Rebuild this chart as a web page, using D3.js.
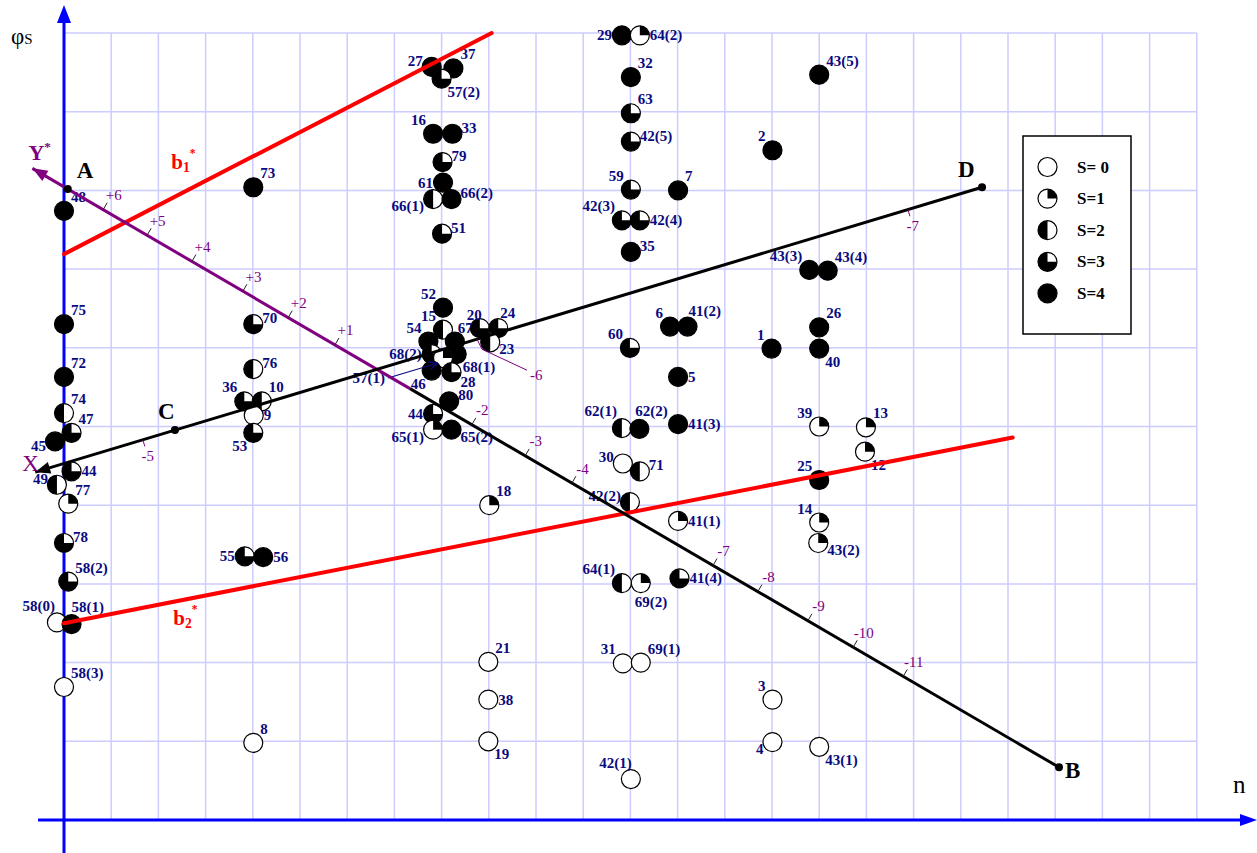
<!DOCTYPE html>
<html>
<head>
<meta charset="utf-8">
<script src="https://cdn.jsdelivr.net/npm/d3@7"></script>
<style>
  html, body { margin: 0; padding: 0; background: #fff; }
  svg { display: block; }
</style>
</head>
<body>
<svg id="chart" width="1257" height="853"></svg>
<script>
// ---------- data ----------
// plotted objects: label, position along n, value of φS, state S (0..4)
const pointIds = [
  "48","75","72","74","47","45","44","49","77","78","58(2)","58(0)","58(1)","58(3)",
  "73","70","76","36","10","9","53","55","56","8",
  "27","37","57(2)","16","33","79","61","66(1)","66(2)","51","52","15","54","67","68(2)","68(1)","57(1)","46","28","80","44","65(1)","65(2)",
  "20","24","23","18","21","38","19",
  "29","64(2)","32","63","42(5)","59","7","42(3)","42(4)","35","60","6","41(2)","5","62(1)","62(2)","41(3)","30","71","42(2)","41(1)","64(1)","69(2)","41(4)","31","69(1)","42(1)",
  "2","43(5)","43(3)","43(4)","1","26","40","39","13","12","25","14","43(2)","3","4","43(1)"
];
const pointN = [
  0, 0, 0, 0, 0.16, -0.19, 0.16, -0.15, 0.09, 0, 0.09, -0.15, 0.16, 0,
  4.01, 4.01, 4.01, 3.82, 4.19, 4.02, 4.01, 3.83, 4.22, 4.01,
  7.79, 8.25, 8.0, 7.82, 8.23, 8.02, 8.03, 7.82, 8.21, 8.01, 8.03, 8.03, 7.72, 8.28, 7.79, 8.32, 8.03, 7.79, 8.21, 8.16, 7.82, 7.82, 8.21,
  8.81, 9.20, 9.03, 9.01, 8.99, 8.99, 8.99,
  11.82, 12.20, 12.01, 12.01, 12.01, 12.01, 13.01, 11.82, 12.20, 12.01, 11.99, 12.84, 13.21, 13.01, 11.82, 12.19, 13.01, 11.84, 12.20, 11.99, 13.01, 11.82, 12.22, 13.04, 11.84, 12.22, 12.01,
  15.01, 16.00, 15.79, 16.18, 14.99, 16.00, 16.00, 16.00, 16.99, 16.97, 16.00, 16.00, 15.98, 15.01, 15.01, 16.00
];
const pointPhi = [
  7.74, 6.30, 5.63, 5.17, 4.92, 4.81, 4.43, 4.26, 4.02, 3.52, 3.03, 2.51, 2.49, 1.69,
  8.04, 6.30, 5.73, 5.32, 5.32, 5.14, 4.92, 3.35, 3.34, 0.98,
  9.57, 9.55, 9.42, 8.72, 8.72, 8.36, 8.10, 7.89, 7.89, 7.45, 6.51, 6.23, 6.08, 6.08, 5.92, 5.92, 5.87, 5.71, 5.69, 5.32, 5.16, 4.96, 4.96,
  6.25, 6.25, 6.07, 4.00, 2.01, 1.53, 1.00,
  9.97, 9.97, 9.44, 8.98, 8.62, 8.01, 8.00, 7.62, 7.62, 7.22, 6.00, 6.27, 6.27, 5.63, 4.98, 4.97, 5.03, 4.53, 4.43, 4.04, 3.80, 3.01, 3.01, 3.07, 1.99, 2.00, 0.52,
  8.51, 9.47, 6.99, 6.98, 5.99, 6.26, 5.99, 5.00, 4.99, 4.68, 4.32, 3.78, 3.52, 1.53, 0.99, 0.93
];
const pointS = [
  4, 4, 4, 2, 3, 4, 3, 2, 1, 3, 3, 0, 4, 0,
  4, 3, 2, 3, 2, 0, 3, 3, 4, 0,
  4, 4, 3, 4, 4, 3, 4, 2, 4, 3, 4, 2, 4, 4, 3, 4, 1, 4, 3, 4, 3, 1, 4,
  3, 3, 2, 1, 0, 0, 0,
  4, 1, 4, 3, 3, 3, 4, 3, 3, 4, 3, 4, 4, 4, 2, 4, 4, 0, 2, 2, 1, 2, 1, 3, 0, 0, 0,
  4, 4, 4, 4, 4, 4, 4, 1, 1, 1, 4, 1, 1, 0, 0, 0
];

// legend states
const sLevels = [0, 1, 2, 3, 4];
const sNames = ["S= 0", "S=1", "S=2", "S=3", "S=4"];

// straight lines, given by their end points [n, φS]
const lineAB = [[-0.67, 8.28], [21.08, 0.67]];   // Y* axis, from arrow tip to B
const lineCD = [[-0.61, 4.42], [19.45, 8.04]];   // X axis, from arrow tip to D
const lineB1 = [[0, 7.19], [9.06, 10.0]];        // b1*
const lineB2 = [[0, 2.50], [20.1, 4.86]];        // b2*
const abPurpleEnd = 7.33;                        // purple part of the Y* axis ends here

// scale marks along the two oblique axes
const abTickLabels = ["+6","+5","+4","+3","+2","+1","-2","-3","-4","-7","-8","-9","-10","-11"];
const abTickN = [0.83, 1.76, 2.71, 3.79, 4.75, 5.74, 8.64, 9.77, 10.76, 13.75, 14.70, 15.76, 16.72, 17.78];
const cdTickLabels = ["-5", "-6", "-7"];
const cdTickN = [1.67, 8.75, 17.88];

// named points on the oblique axes
const pointA_N = 0.08;
const pointC_N = 2.35;

// ---------- layout ----------
const labelCodes = {
  ne: [7, -9, "start"], nw: [-7, -9, "end"],
  e: [10, 5, "start"],  w: [-10, 5, "end"],
  en: [9, -1, "start"], wn: [-9, -1, "end"],
  es: [9, 12, "start"], ws: [-9, 12, "end"],
  se: [6, 18, "start"], sw: [-6, 18, "end"]
};
const labelAt = [
  "ne","ne","ne","ne","ne",[-9,10,"end"],"e","wn","ne","en","ne",[-2,-11,"end"],[0,-12,"start"],"ne",
  "ne","en","en","nw","ne","e","sw","w","e","ne",
  "wn","ne","se","nw","en","en","w","ws","en","en","nw","nw","nw",[3,-9,"start"],"w","se",[-58,25,"end"],"sw",[9,15,"start"],"en","w","ws","es",
  [2,-8,"end"],[2,-10,"start"],"es","ne","ne","e","se",
  "w","e","ne","ne","en","nw","ne","nw","e","en","nw","nw",[1,-11,"start"],"e",[-5,-12,"end"],[-4,-13,"start"],"e","wn","en","wn","e","nw",[-6,24,"start"],"e","nw","ne",[1,-11,"end"],
  "nw","ne","nw","ne","nw","ne","se","nw","ne","se","nw","nw","es","nw","ws","se"
];

const x = d3.scaleLinear().domain([0, 24]).range([64, 1196.8]);
const y = d3.scaleLinear().domain([0, 10]).range([820, 33]);
const svg = d3.select("#chart");
const serif = '"Liberation Serif","Times New Roman",Times,serif';
const R = 9.5;

const onLine = (ln, n) => {
  const [a, b] = ln;
  const t = (n - a[0]) / (b[0] - a[0]);
  return [n, a[1] + t * (b[1] - a[1])];
};
const px = p => [x(p[0]), y(p[1])];
const unitDir = ln => {
  const a = px(ln[0]), b = px(ln[1]);
  const dx = b[0] - a[0], dy = b[1] - a[1], L = Math.hypot(dx, dy);
  return [dx / L, dy / L];
};

// ---------- grid ----------
const grid = svg.append("g").attr("stroke", "#ccccff").attr("stroke-width", 1.5);
grid.selectAll("line.v").data(x.ticks(24).filter(d => d > 0)).join("line")
  .attr("class", "v")
  .attr("x1", d => x(d)).attr("x2", d => x(d))
  .attr("y1", y(10)).attr("y2", y(0));
grid.selectAll("line.h").data(y.ticks(10).filter(d => d > 0)).join("line")
  .attr("class", "h")
  .attr("x1", x(0)).attr("x2", x(24))
  .attr("y1", d => y(d)).attr("y2", d => y(d));

// ---------- axes ----------
const axisCol = "#0000ff";
svg.append("line").attr("x1", x(0)).attr("x2", x(0)).attr("y1", 853).attr("y2", 20)
  .attr("stroke", axisCol).attr("stroke-width", 3);
svg.append("path").attr("d", `M${x(0)},5 L${x(0) - 7},23 L${x(0) + 7},23 Z`).attr("fill", axisCol);
svg.append("line").attr("x1", 38).attr("x2", 1242).attr("y1", y(0)).attr("y2", y(0))
  .attr("stroke", axisCol).attr("stroke-width", 3);
svg.append("path").attr("d", `M1257,${y(0)} L1240,${y(0) - 6} L1240,${y(0) + 6} Z`).attr("fill", axisCol);

const phiLabel = svg.append("text").attr("x", 11).attr("y", 44)
  .attr("font-family", serif).attr("font-size", 23).attr("fill", "#000");
phiLabel.append("tspan").text("φ");
phiLabel.append("tspan").attr("font-size", 15).text("S");
svg.append("text").attr("x", 1233).attr("y", 793).attr("font-family", serif)
  .attr("font-size", 25).attr("fill", "#000").text("n");

// ---------- points ----------
const points = pointIds.map((id, i) => ({ id, n: pointN[i], phi: pointPhi[i], s: pointS[i], at: labelAt[i] }));
const arcGen = d3.arc().innerRadius(0);
const filledArc = { 1: [0, Math.PI / 2], 2: [Math.PI, 2 * Math.PI], 3: [Math.PI / 2, 2 * Math.PI] };

function drawSymbol(g, s, r) {
  g.append("circle").attr("r", r)
    .attr("fill", s === 4 ? "#000" : "#fff")
    .attr("stroke", "#000").attr("stroke-width", 1.2);
  if (filledArc[s]) {
    g.append("path")
      .attr("d", arcGen({ outerRadius: r, startAngle: filledArc[s][0], endAngle: filledArc[s][1] }))
      .attr("fill", "#000");
  }
}

const markG = svg.append("g");
points.forEach(p => {
  const g = markG.append("g").attr("transform", `translate(${x(p.n)},${y(p.phi)})`);
  drawSymbol(g, p.s, R);
});

const labelG = svg.append("g").attr("font-family", serif).attr("font-size", 15)
  .attr("font-weight", "bold").attr("fill", "#0a0a80");
points.forEach(p => {
  const c = Array.isArray(p.at) ? p.at : labelCodes[p.at];
  labelG.append("text")
    .attr("x", x(p.n) + c[0]).attr("y", y(p.phi) + c[1])
    .attr("text-anchor", c[2]).text(p.id);
});

// leader arrow from the 57(1) label to its marker
{
  const p = points.find(d => d.id === "57(1)");
  const tx = x(p.n) - 55, ty = y(p.phi) + 20;
  const hx = x(p.n) - 5, hy = y(p.phi) + 5;
  svg.append("line").attr("x1", tx).attr("y1", ty).attr("x2", hx).attr("y2", hy)
    .attr("stroke", "#0a0a80").attr("stroke-width", 1.2);
  const a = Math.atan2(hy - ty, hx - tx);
  const w = [hx - 9 * Math.cos(a) + 4 * Math.sin(a), hy - 9 * Math.sin(a) - 4 * Math.cos(a)];
  const v = [hx - 9 * Math.cos(a) - 4 * Math.sin(a), hy - 9 * Math.sin(a) + 4 * Math.cos(a)];
  svg.append("path").attr("d", `M${hx},${hy} L${w[0]},${w[1]} M${hx},${hy} L${v[0]},${v[1]}`)
    .attr("stroke", "#0a0a80").attr("stroke-width", 1.2).attr("fill", "none");
}

// ---------- regression lines b1*, b2* ----------
const lineGen = d3.line().x(d => x(d[0])).y(d => y(d[1]));
[lineB1, lineB2].forEach(ln => {
  svg.append("path").attr("d", lineGen(ln)).attr("stroke", "#ff0000")
    .attr("stroke-width", 4).attr("fill", "none").attr("stroke-linecap", "round");
});

function subLabel(xp, yp, base, sub, color, size) {
  const t = svg.append("text").attr("x", xp).attr("y", yp).attr("font-family", serif)
    .attr("font-weight", "bold").attr("font-size", size).attr("fill", color);
  t.append("tspan").text(base);
  t.append("tspan").attr("font-size", size * 0.65).attr("dy", 3).text(sub);
  t.append("tspan").attr("font-size", size * 0.55).attr("dy", -15).text("*");
}
{
  const p1 = px(onLine(lineB1, 2.4));
  subLabel(p1[0] - 6, p1[1] - 27, "b", "1", "#ff0000", 21);
  const p2 = px(onLine(lineB2, 2.4));
  subLabel(p2[0] - 4, p2[1] + 24, "b", "2", "#ff0000", 21);
}

// ---------- oblique axes ----------
const purple = "#800080";
function arrowHead(ln, color) {
  const tip = px(ln[0]);
  const [ux, uy] = unitDir(ln);
  const bx = tip[0] + 15 * ux, by = tip[1] + 15 * uy;
  svg.append("path")
    .attr("d", `M${tip[0]},${tip[1]} L${bx - 6 * uy},${by + 6 * ux} L${bx + 6 * uy},${by - 6 * ux} Z`)
    .attr("fill", color);
}

// Y* axis: purple upper part, black lower part
const abSplit = onLine(lineAB, abPurpleEnd);
svg.append("path").attr("d", lineGen([lineAB[0], abSplit])).attr("stroke", purple)
  .attr("stroke-width", 3).attr("fill", "none");
svg.append("path").attr("d", lineGen([abSplit, lineAB[1]])).attr("stroke", "#000")
  .attr("stroke-width", 3).attr("fill", "none");
arrowHead(lineAB, purple);

// X axis through C and D
svg.append("path").attr("d", lineGen(lineCD)).attr("stroke", "#000")
  .attr("stroke-width", 3).attr("fill", "none");
arrowHead(lineCD, "#000");

// scale marks on Y*
{
  const [ux, uy] = unitDir(lineAB);
  const nx = uy, ny = -ux;   // normal pointing up-right
  abTickN.forEach((n, i) => {
    const p = px(onLine(lineAB, n));
    svg.append("line").attr("x1", p[0]).attr("y1", p[1])
      .attr("x2", p[0] + 8 * nx).attr("y2", p[1] + 8 * ny)
      .attr("stroke", "#222").attr("stroke-width", 1);
    svg.append("text").attr("x", p[0] + 17 * nx + 2).attr("y", p[1] + 17 * ny)
      .attr("dy", "0.35em").attr("text-anchor", "middle")
      .attr("font-family", serif).attr("font-size", 15).attr("fill", purple)
      .text(abTickLabels[i]);
  });
}

// scale marks on X
{
  const [ux, uy] = unitDir(lineCD);
  const nx = -uy, ny = ux;   // normal pointing down-right
  cdTickN.forEach((n, i) => {
    const p = px(onLine(lineCD, n));
    if (cdTickLabels[i] === "-6") {
      svg.append("path")
        .attr("d", `M${p[0]},${p[1]} L${p[0] + 5},${p[1] + 10} L${p[0] + 50},${p[1] + 31}`)
        .attr("stroke", purple).attr("stroke-width", 1).attr("fill", "none");
      svg.append("text").attr("x", p[0] + 53).attr("y", p[1] + 41)
        .attr("font-family", serif).attr("font-size", 15).attr("fill", purple)
        .text(cdTickLabels[i]);
    } else {
      svg.append("line").attr("x1", p[0]).attr("y1", p[1])
        .attr("x2", p[0] + 7 * nx).attr("y2", p[1] + 7 * ny)
        .attr("stroke", purple).attr("stroke-width", 1);
      svg.append("text").attr("x", p[0] + 17 * nx).attr("y", p[1] + 17 * ny)
        .attr("dy", "0.35em").attr("text-anchor", "middle")
        .attr("font-family", serif).attr("font-size", 15).attr("fill", purple)
        .text(cdTickLabels[i]);
    }
  });
}

// named points A, B, C, D
const named = [
  { name: "A", p: onLine(lineAB, pointA_N), dx: 9, dy: -11 },
  { name: "B", p: lineAB[1], dx: 6, dy: 11 },
  { name: "C", p: onLine(lineCD, pointC_N), dx: -17, dy: -11 },
  { name: "D", p: lineCD[1], dx: -24, dy: -10 }
];
named.forEach(d => {
  const [cx, cy] = px(d.p);
  svg.append("circle").attr("cx", cx).attr("cy", cy).attr("r", 4).attr("fill", "#000");
  svg.append("text").attr("x", cx + d.dx).attr("y", cy + d.dy)
    .attr("font-family", serif).attr("font-weight", "bold").attr("font-size", 23)
    .attr("fill", "#000").text(d.name);
});

// axis names X and Y*
{
  const tx = px(lineCD[0]);
  svg.append("text").attr("x", tx[0] - 13).attr("y", tx[1] - 1)
    .attr("font-family", serif).attr("font-size", 23).attr("fill", purple).text("X");
  const ty = px(lineAB[0]);
  const t = svg.append("text").attr("x", ty[0] - 4).attr("y", ty[1] - 8)
    .attr("font-family", serif).attr("font-weight", "bold").attr("font-size", 22).attr("fill", purple);
  t.append("tspan").text("Y");
  t.append("tspan").attr("font-size", 13).attr("dy", -9).text("*");
}

// ---------- legend ----------
const legend = svg.append("g").attr("transform", "translate(1023,136)");
legend.append("rect").attr("width", 108).attr("height", 198)
  .attr("fill", "#fff").attr("stroke", "#000").attr("stroke-width", 1.5);
sLevels.forEach((s, i) => {
  const cy = 31 + i * 31.6;
  const g = legend.append("g").attr("transform", `translate(24.5,${cy})`);
  drawSymbol(g, s, 9.5);
  legend.append("text").attr("x", 54).attr("y", cy + 5.5)
    .attr("font-family", serif).attr("font-weight", "bold").attr("font-size", 17)
    .attr("fill", "#000").text(sNames[i]);
});
</script>
</body>
</html>
